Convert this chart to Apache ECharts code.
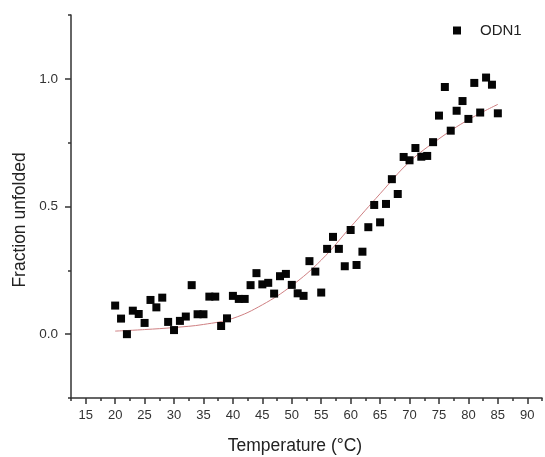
<!DOCTYPE html>
<html>
<head>
<meta charset="utf-8">
<script src="https://cdn.jsdelivr.net/npm/echarts@6.0.0/dist/echarts.min.js"></script>
<style>
html,body{margin:0;padding:0;background:#fff;}
#chart{width:545px;height:457px;}
</style>
</head>
<body>
<div id="chart"></div>
<script>
// Measured data (ODN1)
var temps = [20,21,22,23,24,25,26,27,28,29,30,31,32,33,34,35,36,37,38,39,40,41,42,43,44,45,46,47,48,49,50,51,52,53,54,55,56,57,58,59,60,61,62,63,64,65,66,67,68,69,70,71,72,73,74,75,76,77,78,79,80,81,82,83,84,85];
var fractions = [0.112,0.061,0.000,0.092,0.079,0.044,0.134,0.105,0.143,0.048,0.016,0.052,0.069,0.192,0.078,0.078,0.147,0.147,0.032,0.062,0.150,0.138,0.138,0.192,0.239,0.195,0.201,0.159,0.227,0.236,0.193,0.160,0.150,0.286,0.245,0.163,0.334,0.381,0.334,0.266,0.408,0.271,0.323,0.419,0.506,0.438,0.510,0.607,0.549,0.694,0.681,0.729,0.695,0.698,0.752,0.856,0.968,0.797,0.875,0.913,0.843,0.984,0.868,1.005,0.977,0.865];
// Fit curve
var fitTemps = [20,25,30,35,40,45,50,55,60,65,70,75,80,85];
var fitValues = [0.012,0.018,0.026,0.038,0.062,0.115,0.19,0.29,0.42,0.55,0.675,0.765,0.84,0.90];
// Tick labels
var xTickLabels = [15,20,25,30,35,40,45,50,55,60,65,70,75,80,85,90];
var yTickLabels = [0.0,0.5,1.0];

var seriesName = 'ODN1';
var xTitle = 'Temperature (°C)';
var yTitle = 'Fraction unfolded';

var scatterData = temps.map(function(t,i){return [t,fractions[i]];});
var fitData = fitTemps.map(function(t,i){return [t,fitValues[i]];});

var chart = echarts.init(document.getElementById('chart'), null, {renderer:'canvas'});
var axisColor = '#333';
var labelColor = '#333';
var font = 'Liberation Sans, Arial, sans-serif';

function isLabelX(v){ return xTickLabels.indexOf(Math.round(v*100)/100) >= 0; }
function isLabelY(v){
  for (var i=0;i<yTickLabels.length;i++){ if (Math.abs(v-yTickLabels[i])<1e-6) return true; }
  return false;
}

var option = {
  backgroundColor:'#fff',
  animation:false,
  grid:{left:71,right:0,top:15,bottom:59,containLabel:false},
  legend:{
    data:[{name:seriesName, icon:'rect'}],
    left:448, top:18,
    itemWidth:8, itemHeight:8, itemGap:10,
    textStyle:{fontFamily:font,fontSize:15,color:'#222',padding:[0,0,0,14]}
  },
  xAxis:[{
    type:'value', min:12.5, max:92.5, interval:2.5,
    axisLine:{show:true,onZero:false,lineStyle:{color:axisColor,width:1.5}},
    axisTick:{show:true,length:3,lineStyle:{color:axisColor,width:1.5}},
    splitLine:{show:false},
    axisLabel:{
      margin:11, fontFamily:font, fontSize:13, color:labelColor,
      formatter:function(v){ return (isLabelX(v)) ? String(Math.round(v)) : ''; }
    }
  },{
    type:'value', min:12.5, max:92.5, interval:2.5, position:'bottom',
    axisLine:{show:false,onZero:false},
    axisTick:{show:true,length:6,customValues:xTickLabels,lineStyle:{color:axisColor,width:1.5}},
    axisLabel:{show:false},
    splitLine:{show:false}
  }],
  yAxis:[{
    type:'value', min:-0.25, max:1.25, interval:0.25,
    axisLine:{show:true,onZero:false,lineStyle:{color:axisColor,width:1.5}},
    axisTick:{show:true,length:3,lineStyle:{color:axisColor,width:1.5}},
    splitLine:{show:false},
    axisLabel:{
      margin:13, fontFamily:font, fontSize:13.5, color:labelColor,
      formatter:function(v){ return isLabelY(v) ? v.toFixed(1) : ''; }
    }
  },{
    type:'value', min:-0.25, max:1.25, interval:0.25, position:'left',
    axisLine:{show:false,onZero:false},
    axisTick:{show:true,length:6,customValues:yTickLabels,lineStyle:{color:axisColor,width:1.5}},
    axisLabel:{show:false},
    splitLine:{show:false}
  }],
  series:[{
    name:'fit',
    type:'line',
    data:fitData,
    smooth:0.4,
    showSymbol:false,
    symbol:'none',
    lineStyle:{color:'#cf7f82',width:1},
    z:1,
    silent:true
  },{
    name:seriesName,
    type:'scatter',
    data:scatterData,
    symbol:'rect',
    symbolSize:8,
    itemStyle:{color:'#050505',opacity:1},
    z:2
  }],
  graphic:[{
    type:'text',
    x:295, y:446,
    style:{text:xTitle, fontFamily:font, fontSize:17.5, fill:'#222', align:'center', verticalAlign:'middle'}
  },{
    type:'text',
    x:20, y:220, rotation:Math.PI/2,
    style:{text:yTitle, fontFamily:font, fontSize:17.5, fill:'#222', align:'center', verticalAlign:'middle'}
  }]
};
chart.setOption(option);
</script>
</body>
</html>
